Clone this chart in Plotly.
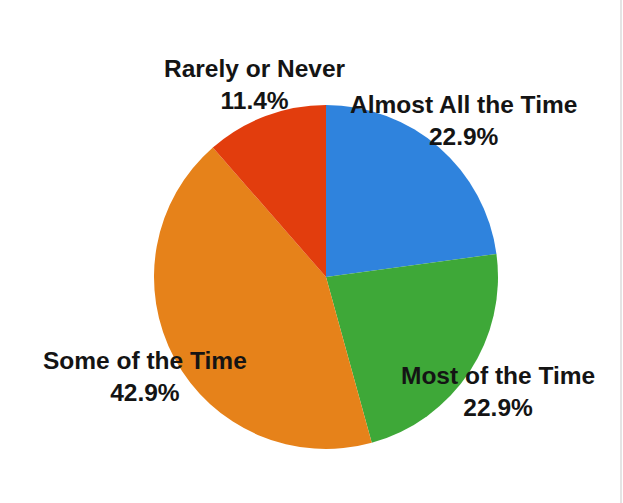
import plotly.graph_objects as go

# Survey responses (counts), slices run clockwise from 12 o'clock
categories = ["Almost All the Time", "Most of the Time", "Some of the Time", "Rarely or Never"]
counts = [8, 8, 15, 4]
slice_colors = ["#2f83dd", "#3ea838", "#e6821a", "#e23d0d"]

# Label anchor points (pixel centres of each two-line label block)
label_px = {
    "Almost All the Time": (463, 121),
    "Most of the Time": (498, 391),
    "Some of the Time": (145, 376),
    "Rarely or Never": (255, 84),
}

W, H = 623, 503
total = sum(counts)

fig = go.Figure(
    go.Pie(
        labels=categories,
        values=counts,
        sort=False,
        direction="clockwise",
        rotation=0,
        marker=dict(colors=slice_colors, line=dict(width=0)),
        textinfo="none",
        hoverinfo="label+percent",
        showlegend=False,
        domain=dict(x=[154 / W, 498 / W], y=[1 - 449 / H, 1 - 105 / H]),
    )
)

for cat, val in zip(categories, counts):
    px, py = label_px[cat]
    fig.add_annotation(
        x=px / W,
        y=1 - py / H,
        xref="paper",
        yref="paper",
        xanchor="center",
        yanchor="middle",
        align="center",
        showarrow=False,
        text=f"{cat}<br>{100 * val / total:.1f}%",
        font=dict(family="Liberation Sans", size=24.5, color="#141414", weight="bold"),
    )

# thin divider along the right edge
fig.add_shape(
    type="line",
    xref="paper",
    yref="paper",
    x0=621 / W,
    x1=621 / W,
    y0=0,
    y1=1,
    line=dict(color="#e4e4e4", width=2),
)

fig.update_layout(
    width=W,
    height=H,
    margin=dict(l=0, r=0, t=0, b=0),
    paper_bgcolor="white",
    plot_bgcolor="white",
)

fig.write_html("out.html")
